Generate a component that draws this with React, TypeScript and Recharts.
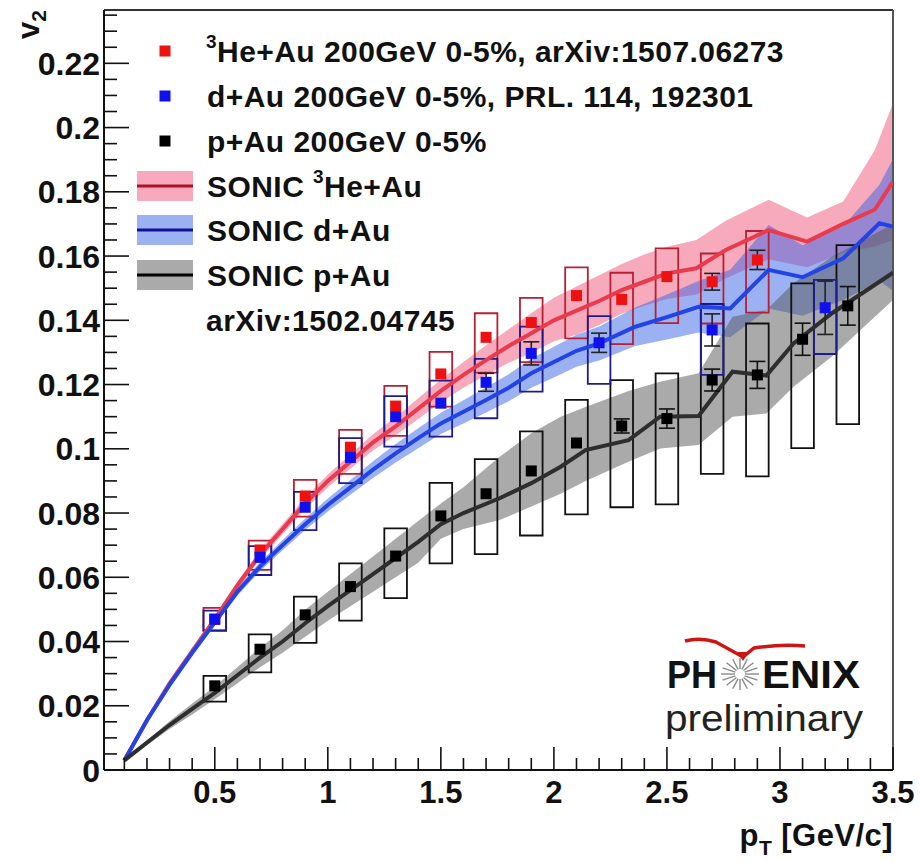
import React from 'react';
import {
  ComposedChart, XAxis, YAxis, Area, Line, Scatter, ErrorBar, ReferenceArea, ReferenceLine,
} from 'recharts';

const FONT = "'Liberation Sans', Arial, Helvetica, sans-serif";

// ---------- axis ----------
const X_DOMAIN = [0.01, 3.5];
const Y_DOMAIN = [0, 0.2366];
const X_TICKS = [0.1, 0.2, 0.3, 0.4, 0.5, 0.6, 0.7, 0.8, 0.9, 1.0, 1.1, 1.2, 1.3, 1.4, 1.5, 1.6, 1.7, 1.8, 1.9, 2.0,
  2.1, 2.2, 2.3, 2.4, 2.5, 2.6, 2.7, 2.8, 2.9, 3.0, 3.1, 3.2, 3.3, 3.4, 3.5];
const Y_TICKS = [0, 0.005, 0.01, 0.015, 0.02, 0.025, 0.03, 0.035, 0.04, 0.045, 0.05, 0.055, 0.06, 0.065, 0.07, 0.075,
  0.08, 0.085, 0.09, 0.095, 0.1, 0.105, 0.11, 0.115, 0.12, 0.125, 0.13, 0.135, 0.14, 0.145, 0.15, 0.155, 0.16, 0.165,
  0.17, 0.175, 0.18, 0.185, 0.19, 0.195, 0.2, 0.205, 0.21, 0.215, 0.22, 0.225, 0.23, 0.235];

// ---------- data: 3He+Au ----------
const HE_PT = [0.5, 0.7, 0.9, 1.1, 1.3, 1.5, 1.7, 1.9, 2.1, 2.3, 2.5, 2.7, 2.9];
const HE_V2 = [0.0470, 0.0685, 0.0853, 0.1005, 0.1133, 0.1233, 0.1347, 0.1393, 0.1477, 0.1465, 0.1536, 0.1520, 0.1588];
const HE_STAT = [null, null, null, null, null, null, null, null, null, null, null, 0.0026, 0.003];
const HE_SYS_LO = [0.0435, 0.0623, 0.0789, 0.0922, 0.1040, 0.1131, 0.1237, 0.1270, 0.1344, 0.1326, 0.1391, 0.1390, 0.1424];
const HE_SYS_HI = [0.0505, 0.0714, 0.0903, 0.1059, 0.1196, 0.1302, 0.1422, 0.1470, 0.1565, 0.1548, 0.1624, 0.1608, 0.1678];

// ---------- data: d+Au ----------
const D_PT = [0.5, 0.7, 0.9, 1.1, 1.3, 1.5, 1.7, 1.9, 2.2, 2.7, 3.2];
const D_V2 = [0.0469, 0.0662, 0.0818, 0.0973, 0.1100, 0.1142, 0.1207, 0.1297, 0.1330, 0.1370, 0.1439];
const D_STAT = [null, null, null, null, null, null, 0.0028, 0.0036, 0.003, 0.005, 0.0083];
const D_SYS_LO = [0.0433, 0.0607, 0.0747, 0.0893, 0.1007, 0.1038, 0.1095, 0.1178, 0.1202, 0.1230, 0.1295];
const D_SYS_HI = [0.0496, 0.0697, 0.0866, 0.1033, 0.1164, 0.1212, 0.1280, 0.1380, 0.1413, 0.1450, 0.1526];

// ---------- data: p+Au ----------
const P_PT = [0.5, 0.7, 0.9, 1.1, 1.3, 1.5, 1.7, 1.9, 2.1, 2.3, 2.5, 2.7, 2.9, 3.1, 3.3];
const P_V2 = [0.0262, 0.0376, 0.0483, 0.0571, 0.0666, 0.0791, 0.0860, 0.0931, 0.1018, 0.1071, 0.1094, 0.1214, 0.1230, 0.1341, 0.1445];
const P_STAT = [null, null, null, null, null, null, null, null, null, 0.0022, 0.003, 0.0034, 0.0042, 0.005, 0.006];
const P_SYS_LO = [0.0213, 0.0304, 0.0396, 0.0465, 0.0535, 0.0643, 0.0672, 0.0730, 0.0796, 0.0818, 0.0827, 0.0922, 0.0914, 0.1002, 0.1077];
const P_SYS_HI = [0.0293, 0.0422, 0.0540, 0.0643, 0.0752, 0.0894, 0.0968, 0.1054, 0.1152, 0.1214, 0.1235, 0.1451, 0.1390, 0.1515, 0.1634];

// ---------- SONIC 3He+Au ----------
const HE_TH_PT = [0.1, 0.2, 0.3, 0.4, 0.5, 0.6, 0.7, 0.8, 0.9, 1.0, 1.1, 1.2, 1.3, 1.4, 1.5, 1.6, 1.7, 1.8, 1.9, 2.0, 2.1, 2.2, 2.3, 2.4, 2.5, 2.63, 2.76, 2.95, 3.12, 3.28, 3.42, 3.5];
const HE_TH = [0.003, 0.0155, 0.027, 0.037, 0.047, 0.0575, 0.067, 0.075, 0.083, 0.090, 0.096, 0.102, 0.107, 0.1125, 0.118, 0.123, 0.1276, 0.132, 0.136, 0.140, 0.143, 0.146, 0.1494, 0.152, 0.1546, 0.1562, 0.1619, 0.1681, 0.1645, 0.170, 0.1745, 0.1832];
const HE_TH_LO = [0.0027, 0.0150, 0.0264, 0.0363, 0.0460, 0.0563, 0.0656, 0.0734, 0.0812, 0.0880, 0.0938, 0.0995, 0.1042, 0.1093, 0.1145, 0.1190, 0.1230, 0.1268, 0.1298, 0.1335, 0.1355, 0.1385, 0.1420, 0.1445, 0.1466, 0.1480, 0.1530, 0.1590, 0.1565, 0.1610, 0.1630, 0.1650];
const HE_TH_HI = [0.0033, 0.0160, 0.0276, 0.0377, 0.0480, 0.0587, 0.0684, 0.0766, 0.0848, 0.0920, 0.0982, 0.1045, 0.1098, 0.1157, 0.1215, 0.1270, 0.1322, 0.1372, 0.1422, 0.1470, 0.1505, 0.1540, 0.1575, 0.1605, 0.1629, 0.1650, 0.1710, 0.1775, 0.1720, 0.1770, 0.1930, 0.2076];

// ---------- SONIC d+Au ----------
const D_TH_PT = [0.1, 0.2, 0.3, 0.4, 0.5, 0.6, 0.7, 0.8, 0.9, 1.0, 1.1, 1.2, 1.3, 1.4, 1.5, 1.6, 1.7, 1.8, 1.9, 2.0, 2.1, 2.2, 2.36, 2.5, 2.64, 2.78, 2.95, 3.1, 3.28, 3.44, 3.5];
const D_TH = [0.003, 0.0155, 0.0265, 0.0365, 0.046, 0.0555, 0.0633, 0.070, 0.0765, 0.0825, 0.088, 0.0935, 0.0986, 0.1033, 0.1079, 0.1115, 0.1152, 0.119, 0.1235, 0.127, 0.1305, 0.1328, 0.138, 0.141, 0.1442, 0.1437, 0.1557, 0.1534, 0.1593, 0.1702, 0.1692];
const D_TH_LO = [0.0027, 0.0150, 0.0258, 0.0356, 0.0450, 0.0543, 0.0619, 0.0684, 0.0747, 0.0805, 0.0857, 0.0909, 0.0957, 0.1002, 0.1046, 0.1079, 0.1113, 0.1148, 0.1190, 0.1222, 0.1255, 0.1275, 0.1320, 0.1340, 0.1362, 0.1347, 0.1437, 0.1414, 0.1463, 0.1522, 0.1492];
const D_TH_HI = [0.0033, 0.0160, 0.0272, 0.0374, 0.0470, 0.0567, 0.0647, 0.0716, 0.0783, 0.0845, 0.0903, 0.0961, 0.1015, 0.1064, 0.1112, 0.1151, 0.1191, 0.1232, 0.1280, 0.1318, 0.1355, 0.1381, 0.1440, 0.1480, 0.1522, 0.1557, 0.1697, 0.1634, 0.1693, 0.1822, 0.1902];

// ---------- SONIC p+Au ----------
const P_TH_PT = [0.1, 0.2, 0.3, 0.4, 0.5, 0.6, 0.7, 0.8, 0.9, 1.0, 1.1, 1.2, 1.3, 1.4, 1.5, 1.6, 1.76, 1.9, 2.03, 2.14, 2.33, 2.47, 2.64, 2.79, 2.94, 3.06, 3.23, 3.5];
const P_TH = [0.003, 0.0085, 0.014, 0.019, 0.024, 0.0295, 0.035, 0.040, 0.0457, 0.051, 0.056, 0.061, 0.066, 0.071, 0.0765, 0.080, 0.0846, 0.0893, 0.0944, 0.0996, 0.1027, 0.110, 0.1102, 0.124, 0.1228, 0.1328, 0.1422, 0.1548];
const P_TH_LO = [0.0027, 0.0078, 0.0128, 0.0173, 0.0220, 0.0270, 0.0320, 0.0365, 0.0415, 0.0465, 0.0510, 0.0555, 0.0600, 0.0645, 0.0720, 0.0750, 0.0778, 0.0820, 0.0860, 0.0900, 0.0960, 0.1001, 0.1012, 0.1100, 0.1110, 0.1193, 0.1287, 0.1463];
const P_TH_HI = [0.0033, 0.0092, 0.0152, 0.0207, 0.0260, 0.0320, 0.0380, 0.0435, 0.0499, 0.0555, 0.0610, 0.0665, 0.0720, 0.0775, 0.0830, 0.0880, 0.0975, 0.1048, 0.1100, 0.1130, 0.1180, 0.1209, 0.1235, 0.1411, 0.1432, 0.1515, 0.1598, 0.1700];

const BOX_HALF_WIDTH = 0.05;

// ---------- builders ----------
const points = (pt: number[], v: number[], e: (number | null)[], lo: number[], hi: number[]) =>
  pt.map((x, i) => ({ x, y: v[i], err: e[i], lo: lo[i], hi: hi[i] }));
const theory = (pt: number[], v: number[], lo: number[], hi: number[]) =>
  pt.map((x, i) => ({ x, y: v[i], band: [lo[i], hi[i]] }));

const HE_DATA = points(HE_PT, HE_V2, HE_STAT, HE_SYS_LO, HE_SYS_HI);
const D_DATA = points(D_PT, D_V2, D_STAT, D_SYS_LO, D_SYS_HI);
const P_DATA = points(P_PT, P_V2, P_STAT, P_SYS_LO, P_SYS_HI);
const HE_THEORY = theory(HE_TH_PT, HE_TH, HE_TH_LO, HE_TH_HI);
const D_THEORY = theory(D_TH_PT, D_TH, D_TH_LO, D_TH_HI);
const P_THEORY = theory(P_TH_PT, P_TH, P_TH_LO, P_TH_HI);

const fmt = (v: number) => String(parseFloat(v.toFixed(3)));

const YTick = (props: any) => {
  const { x, y, payload } = props;
  const v = payload.value;
  const major = Math.abs(v / 0.02 - Math.round(v / 0.02)) < 1e-6;
  return (
    <g>
      <line x1={x} y1={y} x2={x + (major ? 25 : 13)} y2={y} stroke="#111" strokeWidth={1.6} />
      {major && (
        <text x={x - 4} y={y + 11.5} textAnchor="end" fontFamily={FONT} fontWeight="bold" fontSize={32} fill="#111">
          {fmt(v)}
        </text>
      )}
    </g>
  );
};

const XTick = (props: any) => {
  const { x, y, payload } = props;
  const v = payload.value;
  const major = Math.abs(v * 2 - Math.round(v * 2)) < 1e-6;
  return (
    <g>
      <line x1={x} y1={y} x2={x} y2={y - (major ? 23 : 12)} stroke="#111" strokeWidth={1.6} />
      {major && (
        <text x={x} y={y + 33} textAnchor="middle" fontFamily={FONT} fontWeight="bold" fontSize={31} fill="#111">
          {fmt(v)}
        </text>
      )}
    </g>
  );
};

const square = (color: string) => (p: any) => (
  <rect x={p.cx - 5.5} y={p.cy - 5.5} width={11} height={11} fill={color} />
);

const boxes = (data: any[], color: string, key: string) =>
  data.map((d, i) => (
    <ReferenceArea
      key={key + i}
      x1={d.x - BOX_HALF_WIDTH}
      x2={d.x + BOX_HALF_WIDTH}
      y1={d.lo}
      y2={d.hi}
      fill="none"
      fillOpacity={0}
      stroke={color}
      strokeWidth={1.8}
      ifOverflow="visible"
    />
  ));

const ROWS = [51, 96, 141, 186, 230, 275, 320];

const Overlay = () => {
  const txt = { fontFamily: FONT, fontWeight: 'bold' as const, fontSize: 30, fill: '#111', letterSpacing: 0.45 };
  const rays = [0, 22.5, 45, 67.5, 90, 112.5, 135, 157.5, 180, 202.5, 225, 247.5, 270, 292.5, 315, 337.5];
  const cx = 740;
  const cy = 674;
  return (
    <svg width={920} height={862} style={{ position: 'absolute', left: 0, top: 0, pointerEvents: 'none' }}>
      {/* axis titles */}
      <text transform="translate(39,10) rotate(-90)" textAnchor="end" {...txt} fontSize={31} letterSpacing={0}>
        v<tspan fontSize={21} dy={7}>2</tspan>
      </text>
      <text x={893} y={846} textAnchor="end" {...txt} fontSize={31}>
        p<tspan fontSize={21} dy={9}>T</tspan><tspan dy={-9}> [GeV/c]</tspan>
      </text>

      {/* legend markers */}
      <rect x={159.5} y={ROWS[0] - 5.5} width={11} height={11} fill="#ee1111" />
      <rect x={159.5} y={ROWS[1] - 5.5} width={11} height={11} fill="#1010ee" />
      <rect x={159.5} y={ROWS[2] - 5.5} width={11} height={11} fill="#000" />
      <rect x={137} y={ROWS[3] - 15} width={56} height={30} fill="#ee5577" fillOpacity={0.5} />
      <line x1={137} x2={193} y1={ROWS[3]} y2={ROWS[3]} stroke="#b01028" strokeWidth={3} />
      <rect x={137} y={ROWS[4] - 15} width={56} height={30} fill="#3a64e6" fillOpacity={0.5} />
      <line x1={137} x2={193} y1={ROWS[4]} y2={ROWS[4]} stroke="#10109a" strokeWidth={3} />
      <rect x={137} y={ROWS[5] - 15} width={56} height={30} fill="#555" fillOpacity={0.5} />
      <line x1={137} x2={193} y1={ROWS[5]} y2={ROWS[5]} stroke="#000" strokeWidth={3} />

      {/* legend texts */}
      <text x={206} y={ROWS[0] + 11} {...txt}>
        <tspan fontSize={19} dy={-14}>3</tspan><tspan dy={14}>He+Au 200GeV 0-5%, arXiv:1507.06273</tspan>
      </text>
      <text x={207} y={ROWS[1] + 11} {...txt}>d+Au 200GeV 0-5%, PRL. 114, 192301</text>
      <text x={207} y={ROWS[2] + 11} {...txt}>p+Au 200GeV 0-5%</text>
      <text x={207} y={ROWS[3] + 11} {...txt}>
        SONIC <tspan fontSize={19} dy={-14}>3</tspan><tspan dy={14}>He+Au</tspan>
      </text>
      <text x={207} y={ROWS[4] + 11} {...txt}>SONIC d+Au</text>
      <text x={207} y={ROWS[5] + 11} {...txt}>SONIC p+Au</text>
      <text x={206} y={ROWS[6] + 11} {...txt}>arXiv:1502.04745</text>

      {/* PHENIX logo */}
      <path d="M685,641 Q700,637 716,642 L743,657 L754,648 Q780,644 805,646" fill="none" stroke="#cc1515" strokeWidth={3.5} />
      <path d="M737,652 L743,661 L749,652 Z" fill="#cc1515" />
      <text x={667} y={688} textLength={50} lengthAdjust="spacingAndGlyphs" fontFamily={FONT} fontWeight="bold" fontSize={38} fill="#111">PH</text>
      <g stroke="#8a8a8a" strokeWidth={1.4}>
        {rays.map((a) => (
          <line key={a}
            x1={cx + 5 * Math.cos((a * Math.PI) / 180)} y1={cy + 5 * Math.sin((a * Math.PI) / 180)}
            x2={cx + 19 * Math.cos((a * Math.PI) / 180)} y2={cy + 16 * Math.sin((a * Math.PI) / 180)} />
        ))}
      </g>
      <text x={762} y={688} textLength={98} lengthAdjust="spacingAndGlyphs" fontFamily={FONT} fontWeight="bold" fontSize={38} fill="#111">ENIX</text>
      <text x={665} y={731} textLength={198} lengthAdjust="spacingAndGlyphs" fontFamily={FONT} fontSize={37} fill="#222">preliminary</text>
    </svg>
  );
};

export default function App() {
  return (
    <div style={{ position: 'absolute', left: 0, top: 0, width: 920, height: 862, background: '#fff' }}>
      <ComposedChart width={920} height={862} margin={{ top: 10, right: 27, bottom: 0, left: 0 }}>
        <XAxis
          dataKey="x"
          type="number"
          domain={X_DOMAIN}
          allowDataOverflow
          ticks={X_TICKS}
          interval={0}
          height={92}
          tickSize={0}
          tickMargin={0}
          tickLine={false}
          tick={<XTick />}
          axisLine={{ stroke: '#111', strokeWidth: 2 }}
        />
        <YAxis
          type="number"
          domain={Y_DOMAIN}
          allowDataOverflow
          ticks={Y_TICKS}
          interval={0}
          width={104}
          tickSize={0}
          tickMargin={0}
          tickLine={false}
          tick={<YTick />}
          axisLine={{ stroke: '#111', strokeWidth: 2 }}
        />
        <ReferenceLine y={Y_DOMAIN[1]} stroke="#333" strokeWidth={2} ifOverflow="visible" />
        <ReferenceLine x={X_DOMAIN[1]} stroke="#555" strokeWidth={2} ifOverflow="visible" />

        <Area data={HE_THEORY} dataKey="band" type="linear" stroke="none" fill="#ee5577" fillOpacity={0.5} isAnimationActive={false} activeDot={false} />
        <Area data={D_THEORY} dataKey="band" type="linear" stroke="none" fill="#3a64e6" fillOpacity={0.5} isAnimationActive={false} activeDot={false} />
        <Area data={P_THEORY} dataKey="band" type="linear" stroke="none" fill="#555555" fillOpacity={0.5} isAnimationActive={false} activeDot={false} />

        <Line data={HE_THEORY} dataKey="y" type="linear" stroke="#ea3a4e" strokeWidth={4} dot={false} activeDot={false} isAnimationActive={false} />
        <Line data={D_THEORY} dataKey="y" type="linear" stroke="#2244e6" strokeWidth={4} dot={false} activeDot={false} isAnimationActive={false} />
        <Line data={P_THEORY} dataKey="y" type="linear" stroke="#2e2e2e" strokeWidth={4} dot={false} activeDot={false} isAnimationActive={false} />

        {boxes(P_DATA, '#111', 'p')}
        {boxes(HE_DATA, '#b52035', 'he')}
        {boxes(D_DATA, '#1c1c8c', 'd')}

        <Scatter data={P_DATA} dataKey="y" shape={square('#000')} isAnimationActive={false}>
          <ErrorBar dataKey="err" direction="y" width={8} stroke="#111" strokeWidth={1.6} />
        </Scatter>
        <Scatter data={HE_DATA} dataKey="y" shape={square('#ee1111')} isAnimationActive={false}>
          <ErrorBar dataKey="err" direction="y" width={8} stroke="#222" strokeWidth={1.6} />
        </Scatter>
        <Scatter data={D_DATA} dataKey="y" shape={square('#1010ee')} isAnimationActive={false}>
          <ErrorBar dataKey="err" direction="y" width={8} stroke="#222" strokeWidth={1.6} />
        </Scatter>
      </ComposedChart>
      <Overlay />
    </div>
  );
}
